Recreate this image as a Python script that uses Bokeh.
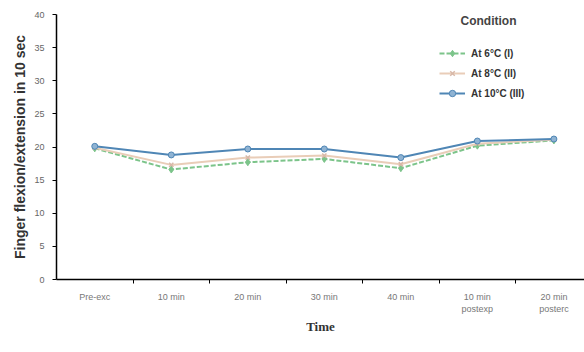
from bokeh.plotting import figure
from bokeh.models import FixedTicker, Legend, LegendItem, Label, Range1d
from bokeh.embed import file_html
from bokeh.resources import INLINE

categories = ["Pre-exc", "10 min", "20 min", "30 min", "40 min", "10 min\npostexp", "20 min\nposterc"]
y_ticks = [0, 5, 10, 15, 20, 25, 30, 35, 40]
series_names = ["At 6°C (I)", "At 8°C (II)", "At 10°C (III)"]
vals_6 = [19.8, 16.6, 17.7, 18.2, 16.8, 20.2, 21.0]
vals_8 = [19.9, 17.3, 18.4, 18.7, 17.4, 20.5, 21.1]
vals_10 = [20.1, 18.8, 19.7, 19.7, 18.4, 20.9, 21.2]

xs = list(range(len(categories)))

p = figure(width=584, height=352, output_backend="svg", toolbar_location=None,
           x_range=Range1d(-0.5, 6.4), y_range=Range1d(0, 40),
           min_border_left=56, min_border_right=0, min_border_top=14, min_border_bottom=73)
p.outline_line_color = None
p.xgrid.visible = False
p.ygrid.visible = False
p.background_fill_color = "white"

# axes
p.yaxis.ticker = FixedTicker(ticks=y_ticks)
p.yaxis.axis_line_color = "black"
p.yaxis.axis_line_width = 1.5
p.yaxis.major_tick_out = 4
p.yaxis.major_tick_in = 0
p.yaxis.minor_tick_line_color = None
p.yaxis.major_label_text_font = "Liberation Sans"
p.yaxis.major_label_text_font_size = "9px"
p.yaxis.major_label_text_color = "#666666"
p.yaxis.major_label_standoff = 8
p.yaxis.axis_label = "Finger flexion/extension in 10 sec"
p.yaxis.axis_label_text_font = "Liberation Sans"
p.yaxis.axis_label_text_font_style = "bold"
p.yaxis.axis_label_text_font_size = "14px"
p.yaxis.axis_label_text_color = "#333333"
p.yaxis.axis_label_standoff = 3

p.xaxis.ticker = FixedTicker(ticks=xs, minor_ticks=[0.5, 1.5, 2.5, 3.5, 4.5, 5.5])
p.xaxis.major_label_overrides = {i: c for i, c in zip(xs, categories)}
p.xaxis.axis_line_color = "black"
p.xaxis.axis_line_width = 1.5
p.xaxis.major_tick_line_color = None
p.xaxis.minor_tick_line_color = "black"
p.xaxis.minor_tick_out = 4
p.xaxis.minor_tick_in = 0
p.xaxis.major_label_text_font = "Liberation Sans"
p.xaxis.major_label_text_font_size = "9px"
p.xaxis.major_label_text_color = "#777777"
p.xaxis.major_label_standoff = 6
p.xaxis.axis_label = "Time"
p.xaxis.axis_label_text_font = "Liberation Serif"
p.xaxis.axis_label_text_font_style = "bold"
p.xaxis.axis_label_text_font_size = "13px"
p.xaxis.axis_label_text_color = "#333333"
p.xaxis.axis_label_standoff = 2

# series
c6, c8, c10 = "#7cc48a", "#e9cdb8", "#4f86b5"
l6 = p.line(xs, vals_6, line_color=c6, line_width=2, line_dash="5 2")
m6 = p.scatter(xs, vals_6, marker="diamond", size=7, fill_color=c6, line_color=c6)
l8 = p.line(xs, vals_8, line_color=c8, line_width=2)
m8 = p.scatter(xs, vals_8, marker="x", size=6, line_color="#d8b8a8", line_width=1.5)
l10 = p.line(xs, vals_10, line_color=c10, line_width=2)
m10 = p.scatter(xs, vals_10, marker="circle", size=6, fill_color="#8fb3d3", line_color=c10)

legend = Legend(items=[LegendItem(label=series_names[0], renderers=[l6, m6]),
                       LegendItem(label=series_names[1], renderers=[l8, m8]),
                       LegendItem(label=series_names[2], renderers=[l10, m10])],
                location=(383, 178), border_line_color=None, background_fill_alpha=0,
                padding=0, margin=0, spacing=4, glyph_width=26, glyph_height=16,
                label_height=16, label_standoff=6,
                label_text_font="Liberation Sans", label_text_font_size="10px",
                label_text_font_style="bold", label_text_color="#333333")
p.add_layout(legend)

p.add_layout(Label(x=404, y=252, x_units="screen", y_units="screen", text="Condition",
                   text_font="Liberation Sans", text_font_size="12px",
                   text_color="#444444", text_font_style="bold"))

open("out.html", "w").write(file_html(p, INLINE))
